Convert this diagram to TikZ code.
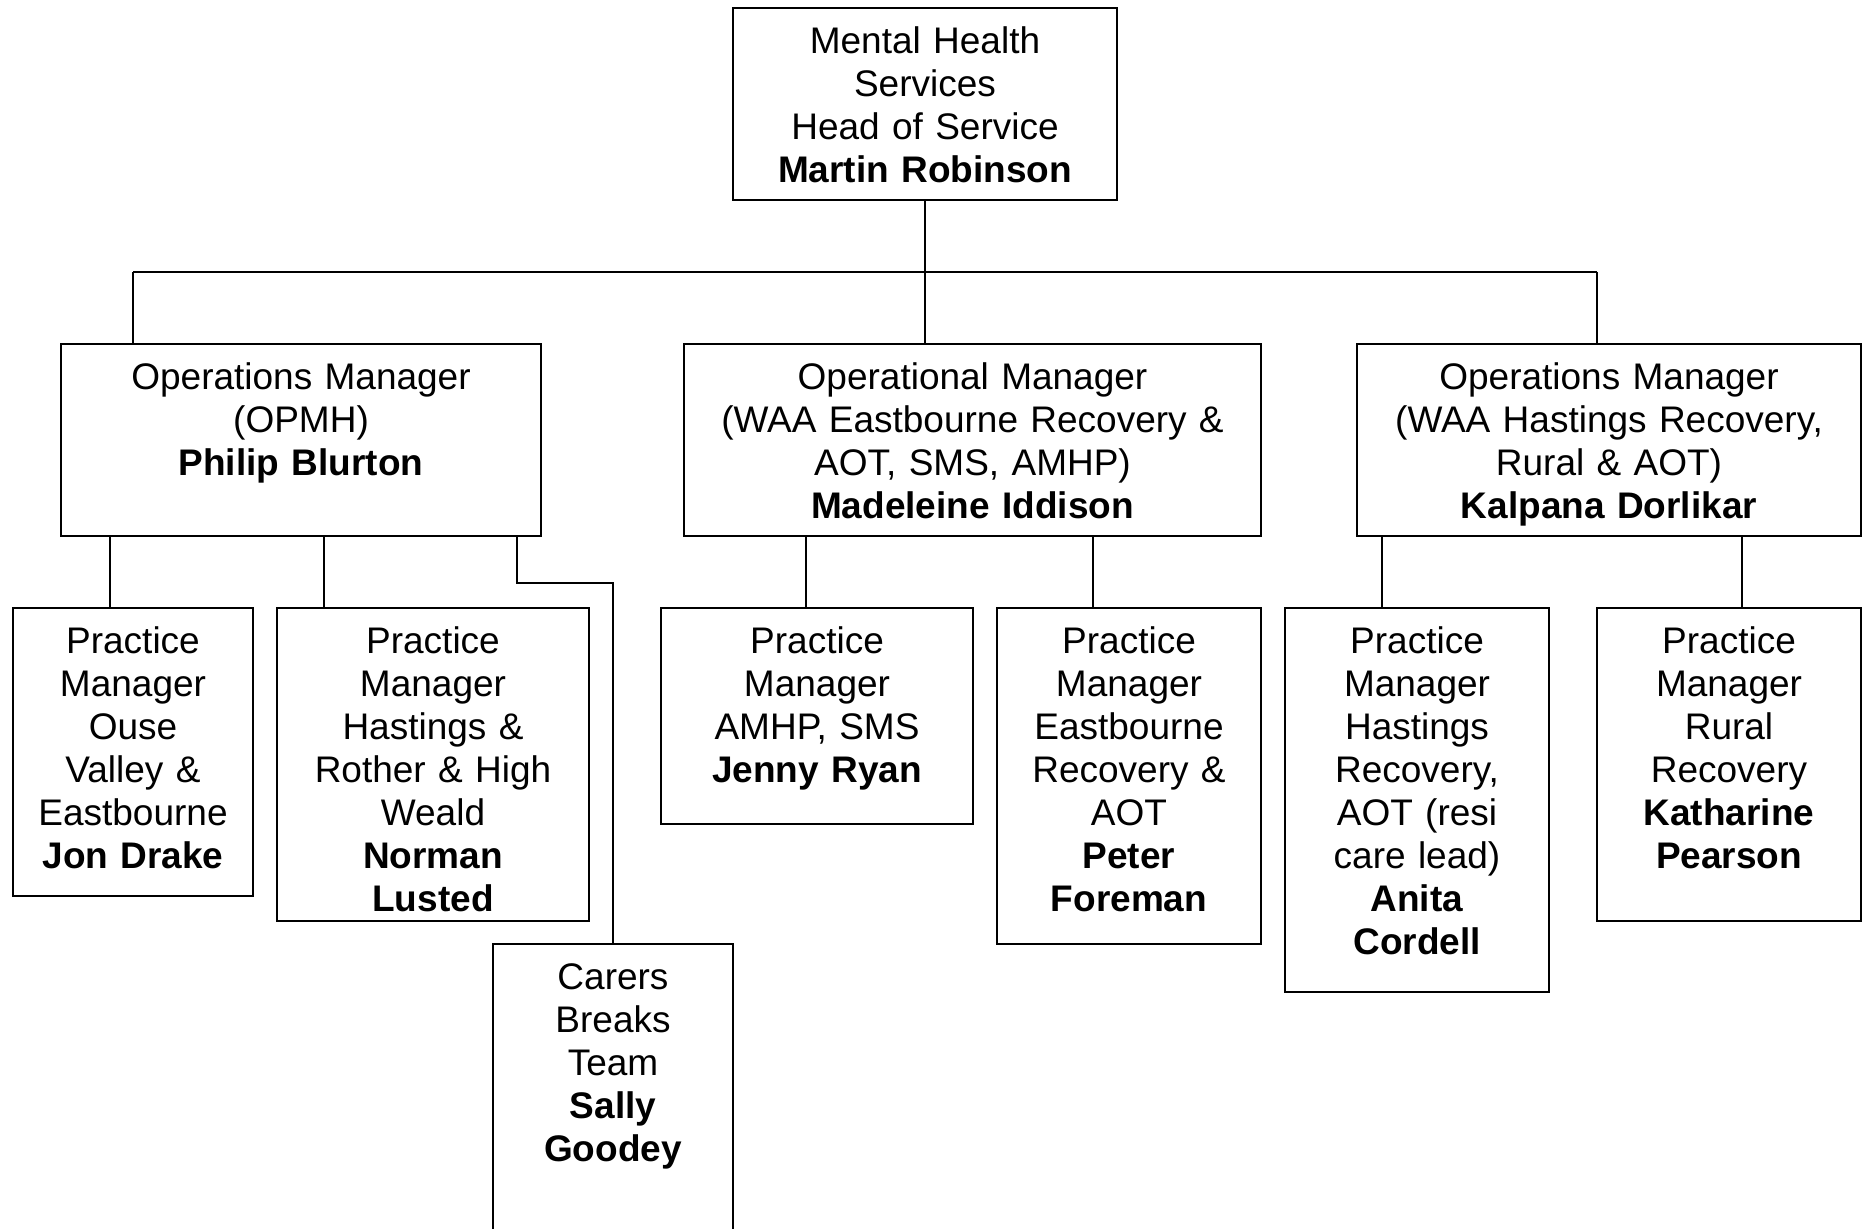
\documentclass[tikz,border=0pt]{standalone}
\usepackage{fontspec}
\setmainfont{Liberation Sans}
\tikzset{
  post/.style n args={2}{draw, line width=1.2pt, anchor=north, inner sep=0pt,
    align=center, text width=#1, text height=22.5pt, text depth=#2,
    font=\fontsize{18.5pt}{21.5pt}\selectfont},
  link/.style={line width=1.2pt}
}

\begin{document}
\begin{tikzpicture}[x=0.5pt, y=-0.5pt]
  \useasboundingbox (0,0) rectangle (1863,1229);
  % top
  \node[post={192pt}{73.5pt}] (head) at (925,7)
    {Mental Health\\Services\\Head of Service\\\textbf{Martin Robinson}};
  % operations managers
  \node[post={240pt}{73.5pt}] (opA) at (301,343)
    {Operations Manager\\(OPMH)\\\textbf{Philip Blurton}};
  \node[post={288.5pt}{73.5pt}] (opB) at (972.5,343)
    {Operational Manager\\(WAA Eastbourne Recovery \&\\AOT, SMS, AMHP)\\\textbf{Madeleine Iddison}};
  \node[post={252pt}{73.5pt}] (opC) at (1609,343)
    {Operations Manager\\(WAA Hastings Recovery,\\Rural \& AOT)\\\textbf{Kalpana Dorlikar}};
  % practice managers
  \node[post={120pt}{121.5pt}] (jon) at (133,607)
    {Practice\\Manager\\Ouse\\Valley \&\\Eastbourne\\\textbf{Jon Drake}};
  \node[post={156pt}{134pt}] (norman) at (433,607)
    {Practice\\Manager\\Hastings \&\\Rother \& High\\Weald\\\textbf{Norman}\\\textbf{Lusted}};
  \node[post={120pt}{131pt}] (carers) at (613,943)
    {Carers\\Breaks\\Team\\\textbf{Sally}\\\textbf{Goodey}};
  \node[post={156pt}{85.5pt}] (jenny) at (817,607)
    {Practice\\Manager\\AMHP, SMS\\\textbf{Jenny Ryan}};
  \node[post={132pt}{145.5pt}] (peter) at (1129,607)
    {Practice\\Manager\\Eastbourne\\Recovery \&\\AOT\\\textbf{Peter}\\\textbf{Foreman}};
  \node[post={132pt}{169.5pt}] (anita) at (1417,607)
    {Practice\\Manager\\Hastings\\Recovery,\\AOT (resi\\care lead)\\\textbf{Anita}\\\textbf{Cordell}};
  \node[post={132pt}{134pt}] (katharine) at (1729,607)
    {Practice\\Manager\\Rural\\Recovery\\\textbf{Katharine}\\\textbf{Pearson}};
  % connectors
  \coordinate (busL) at (133,272);
  \coordinate (busR) at (1597,272);
  \coordinate (bend) at (613,583);
  \draw[link] (busL) -- (busR);
  \draw[link] (busL) -- (busL |- opA.north);
  \draw[link] (busR) -- (busR |- opC.north);
  \draw[link] (head.south) -- (head.south |- opB.north);
  \draw[link] (opA.south -| 110,0) -- (jon.north -| 110,0);
  \draw[link] (opA.south -| 324,0) -- (norman.north -| 324,0);
  \draw[link] (opA.south -| 517,0) |- (bend) -- (carers.north);
  \draw[link] (opB.south -| 806,0) -- (jenny.north -| 806,0);
  \draw[link] (opB.south -| 1093,0) -- (peter.north -| 1093,0);
  \draw[link] (opC.south -| 1382,0) -- (anita.north -| 1382,0);
  \draw[link] (opC.south -| 1742,0) -- (katharine.north -| 1742,0);
\end{tikzpicture}
\end{document}
